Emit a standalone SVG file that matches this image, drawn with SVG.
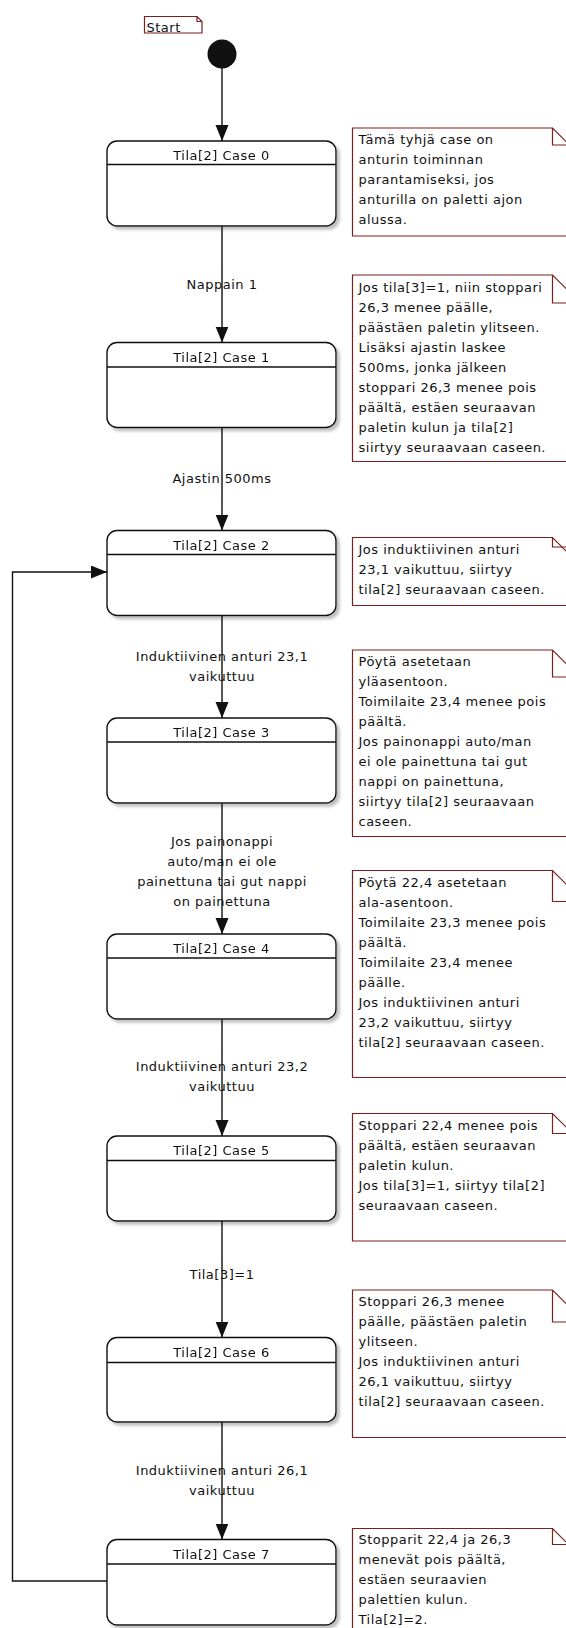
<svg xmlns="http://www.w3.org/2000/svg" width="566" height="1628" viewBox="0 0 566 1628">
  <style>
    text { font-family: "DejaVu Sans", "Liberation Sans", sans-serif; font-size: 13px; letter-spacing: 0.5px; fill: #111; }
    .title, .lbl { text-anchor: middle; }
    .state { fill: #fff; stroke: #111; stroke-width: 1.4; }
    .sep { stroke: #111; stroke-width: 1.4; }
    .note { fill: #fff; stroke: #7a1f1f; stroke-width: 1.2; }
    .fold { fill: none; stroke: #7a1f1f; stroke-width: 1.2; }
    .edge { fill: none; stroke: #111; stroke-width: 1.4; }
  </style>
  <defs>
    <marker id="arrow" markerUnits="userSpaceOnUse" markerWidth="17" markerHeight="14" refX="16" refY="6.5" orient="auto">
      <path d="M0,0 L16,6.5 L0,13 z" fill="#111"/>
    </marker>
    <filter id="shadow" x="-5%" y="-5%" width="115%" height="125%">
      <feDropShadow dx="3" dy="3" stdDeviation="1.5" flood-color="#888" flood-opacity="0.55"/>
    </filter>
  </defs>

  <rect width="566" height="1628" fill="#fff"/>

  <!-- start marker and its note -->
  <g id="start-note">
    <path class="note" d="M144.5,16.5 H197 L202,21.5 V33 H144.5 Z"/>
    <path class="fold" d="M197,16.5 V21.5 H202"/>
    <text x="146.5" y="31.5">Start</text>
  </g>
  <g id="initial">
    <circle cx="222" cy="54" r="14.5" fill="#111"/>
  </g>

  <!-- states -->
  <g id="case0" filter="url(#shadow)">
    <rect class="state" x="107" y="141" width="229" height="85" rx="10"/>
    <line class="sep" x1="107" y1="164.5" x2="336" y2="164.5"/>
    <text class="title" x="221.5" y="160">Tila[2] Case 0</text>
  </g>
  <g id="case1" filter="url(#shadow)">
    <rect class="state" x="107" y="342.5" width="229" height="85" rx="10"/>
    <line class="sep" x1="107" y1="367" x2="336" y2="367"/>
    <text class="title" x="221.5" y="361.5">Tila[2] Case 1</text>
  </g>
  <g id="case2" filter="url(#shadow)">
    <rect class="state" x="107" y="530.5" width="229" height="85" rx="10"/>
    <line class="sep" x1="107" y1="554.5" x2="336" y2="554.5"/>
    <text class="title" x="221.5" y="549.5">Tila[2] Case 2</text>
  </g>
  <g id="case3" filter="url(#shadow)">
    <rect class="state" x="107" y="718" width="229" height="85" rx="10"/>
    <line class="sep" x1="107" y1="742" x2="336" y2="742"/>
    <text class="title" x="221.5" y="737">Tila[2] Case 3</text>
  </g>
  <g id="case4" filter="url(#shadow)">
    <rect class="state" x="107" y="934" width="229" height="85" rx="10"/>
    <line class="sep" x1="107" y1="958" x2="336" y2="958"/>
    <text class="title" x="221.5" y="953">Tila[2] Case 4</text>
  </g>
  <g id="case5" filter="url(#shadow)">
    <rect class="state" x="107" y="1136" width="229" height="85" rx="10"/>
    <line class="sep" x1="107" y1="1160.5" x2="336" y2="1160.5"/>
    <text class="title" x="221.5" y="1155">Tila[2] Case 5</text>
  </g>
  <g id="case6" filter="url(#shadow)">
    <rect class="state" x="107" y="1337.5" width="229" height="84.5" rx="10"/>
    <line class="sep" x1="107" y1="1362.5" x2="336" y2="1362.5"/>
    <text class="title" x="221.5" y="1357">Tila[2] Case 6</text>
  </g>
  <g id="case7" filter="url(#shadow)">
    <rect class="state" x="107" y="1539.5" width="229" height="85.5" rx="10"/>
    <line class="sep" x1="107" y1="1564" x2="336" y2="1564"/>
    <text class="title" x="221.5" y="1559">Tila[2] Case 7</text>
  </g>

  <!-- comment notes -->
  <g id="note0">
    <path class="note" d="M352.5,128 H552.5 L569.5,145 V236 H352.5 Z"/>
    <path class="fold" d="M552.5,128 V145 H569.5"/>
    <text x="358.5" y="143.5">Tämä tyhjä case on</text>
    <text x="358.5" y="163.5">anturin toiminnan</text>
    <text x="358.5" y="183.5">parantamiseksi, jos</text>
    <text x="358.5" y="203.5">anturilla on paletti ajon</text>
    <text x="358.5" y="223.5">alussa.</text>
  </g>
  <g id="note1">
    <path class="note" d="M352.5,275 H552.5 L580.5,303 V461.5 H352.5 Z"/>
    <path class="fold" d="M552.5,275 V303 H580.5"/>
    <text x="358.5" y="291.5">Jos tila[3]=1, niin stoppari</text>
    <text x="358.5" y="311.5">26,3 menee päälle,</text>
    <text x="358.5" y="331.5">päästäen paletin ylitseen.</text>
    <text x="358.5" y="351.5">Lisäksi ajastin laskee</text>
    <text x="358.5" y="371.5">500ms, jonka jälkeen</text>
    <text x="358.5" y="391.5">stoppari 26,3 menee pois</text>
    <text x="358.5" y="411.5">päältä, estäen seuraavan</text>
    <text x="358.5" y="431.5">paletin kulun ja tila[2]</text>
    <text x="358.5" y="451.5">siirtyy seuraavaan caseen.</text>
  </g>
  <g id="note2">
    <path class="note" d="M352.5,537.5 H552.5 L567.5,552.5 V605.5 H352.5 Z"/>
    <path class="fold" d="M552.5,537.5 V547 H567.5"/>
    <text x="358.5" y="553.5">Jos induktiivinen anturi</text>
    <text x="358.5" y="573.5">23,1 vaikuttuu, siirtyy</text>
    <text x="358.5" y="593.5">tila[2] seuraavaan caseen.</text>
  </g>
  <g id="note3">
    <path class="note" d="M352.5,650 H552.5 L579.5,677 V836.5 H352.5 Z"/>
    <path class="fold" d="M552.5,650 V677 H579.5"/>
    <text x="358.5" y="666">Pöytä asetetaan</text>
    <text x="358.5" y="686">yläasentoon.</text>
    <text x="358.5" y="706">Toimilaite 23,4 menee pois</text>
    <text x="358.5" y="726">päältä.</text>
    <text x="358.5" y="746">Jos painonappi auto/man</text>
    <text x="358.5" y="766">ei ole painettuna tai gut</text>
    <text x="358.5" y="786">nappi on painettuna,</text>
    <text x="358.5" y="806">siirtyy tila[2] seuraavaan</text>
    <text x="358.5" y="826">caseen.</text>
  </g>
  <g id="note4">
    <path class="note" d="M352.5,870.5 H552.5 L583.5,901.5 V1077.5 H352.5 Z"/>
    <path class="fold" d="M552.5,870.5 V901.5 H583.5"/>
    <text x="358.5" y="886.5">Pöytä 22,4 asetetaan</text>
    <text x="358.5" y="906.5">ala-asentoon.</text>
    <text x="358.5" y="926.5">Toimilaite 23,3 menee pois</text>
    <text x="358.5" y="946.5">päältä.</text>
    <text x="358.5" y="966.5">Toimilaite 23,4 menee</text>
    <text x="358.5" y="986.5">päälle.</text>
    <text x="358.5" y="1006.5">Jos induktiivinen anturi</text>
    <text x="358.5" y="1026.5">23,2 vaikuttuu, siirtyy</text>
    <text x="358.5" y="1046.5">tila[2] seuraavaan caseen.</text>
  </g>
  <g id="note5">
    <path class="note" d="M352.5,1113.5 H552.5 L572.5,1133.5 V1241 H352.5 Z"/>
    <path class="fold" d="M552.5,1113.5 V1133.5 H572.5"/>
    <text x="358.5" y="1129.5">Stoppari 22,4 menee pois</text>
    <text x="358.5" y="1149.5">päältä, estäen seuraavan</text>
    <text x="358.5" y="1169.5">paletin kulun.</text>
    <text x="358.5" y="1189.5">Jos tila[3]=1, siirtyy tila[2]</text>
    <text x="358.5" y="1209.5">seuraavaan caseen.</text>
  </g>
  <g id="note6">
    <path class="note" d="M352.5,1290 H552.5 L584.5,1322 V1437.5 H352.5 Z"/>
    <path class="fold" d="M552.5,1290 V1322 H584.5"/>
    <text x="358.5" y="1306">Stoppari 26,3 menee</text>
    <text x="358.5" y="1326">päälle, päästäen paletin</text>
    <text x="358.5" y="1346">ylitseen.</text>
    <text x="358.5" y="1366">Jos induktiivinen anturi</text>
    <text x="358.5" y="1386">26,1 vaikuttuu, siirtyy</text>
    <text x="358.5" y="1406">tila[2] seuraavaan caseen.</text>
  </g>
  <g id="note7">
    <path class="note" d="M352.5,1528.5 H552.5 L568.5,1544.5 V1640 H352.5 Z"/>
    <path class="fold" d="M552.5,1528.5 V1544.5 H568.5"/>
    <text x="358.5" y="1544">Stopparit 22,4 ja 26,3</text>
    <text x="358.5" y="1564">menevät pois päältä,</text>
    <text x="358.5" y="1584">estäen seuraavien</text>
    <text x="358.5" y="1604">palettien kulun.</text>
    <text x="358.5" y="1624">Tila[2]=2.</text>
  </g>

  <!-- transition guards -->
  <g id="labels">
    <text class="lbl" x="222" y="288.5">Nappain 1</text>
    <text class="lbl" x="222" y="482.5">Ajastin 500ms</text>
    <text class="lbl" x="222" y="660.5">Induktiivinen anturi 23,1</text>
    <text class="lbl" x="222" y="680.5">vaikuttuu</text>
    <text class="lbl" x="222" y="846">Jos painonappi</text>
    <text class="lbl" x="222" y="866">auto/man ei ole</text>
    <text class="lbl" x="222" y="886">painettuna tai gut nappi</text>
    <text class="lbl" x="222" y="906">on painettuna</text>
    <text class="lbl" x="222" y="1071">Induktiivinen anturi 23,2</text>
    <text class="lbl" x="222" y="1091">vaikuttuu</text>
    <text class="lbl" x="222" y="1279">Tila[3]=1</text>
    <text class="lbl" x="222" y="1474.5">Induktiivinen anturi 26,1</text>
    <text class="lbl" x="222" y="1495">vaikuttuu</text>
  </g>

  <!-- transitions -->
  <g id="connectors">
    <line class="edge" x1="222" y1="68" x2="222" y2="141" marker-end="url(#arrow)"/>
    <line class="edge" x1="222" y1="226" x2="222" y2="342.5" marker-end="url(#arrow)"/>
    <line class="edge" x1="222" y1="427.5" x2="222" y2="530.5" marker-end="url(#arrow)"/>
    <line class="edge" x1="222" y1="615.5" x2="222" y2="718" marker-end="url(#arrow)"/>
    <line class="edge" x1="222" y1="803" x2="222" y2="934" marker-end="url(#arrow)"/>
    <line class="edge" x1="222" y1="1019" x2="222" y2="1136" marker-end="url(#arrow)"/>
    <line class="edge" x1="222" y1="1221" x2="222" y2="1337.5" marker-end="url(#arrow)"/>
    <line class="edge" x1="222" y1="1422" x2="222" y2="1539.5" marker-end="url(#arrow)"/>
    <polyline class="edge" points="107,1581 12.5,1581 12.5,572 107,572" marker-end="url(#arrow)"/>
  </g>
</svg>
